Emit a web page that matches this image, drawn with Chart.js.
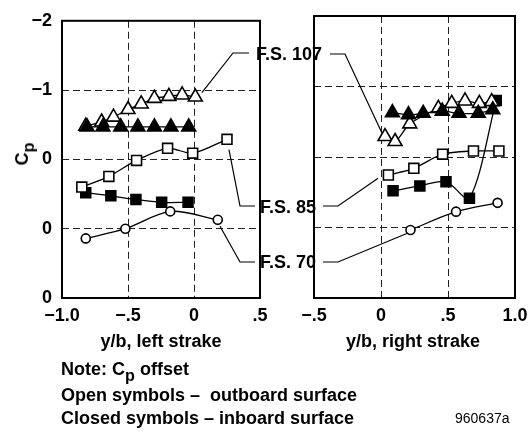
<!DOCTYPE html>
<html>
<head>
<meta charset="utf-8">
<script src="https://cdn.jsdelivr.net/npm/chart.js@4.4.1/dist/chart.umd.min.js"></script>
<style>
html, body { margin: 0; padding: 0; background: #fff; overflow: hidden; width: 528px; height: 432px; }
body { position: relative; font-family: "Liberation Sans", Arial, sans-serif; font-weight: bold; color: #000; }
canvas { position: absolute; top: 0; }
#left { left: 0; }
#right { left: 260px; }
#overlay { left: 0; pointer-events: none; }
.lbl { position: absolute; font-size: 18px; white-space: nowrap; line-height: 20px; }
.c { transform: translate(-50%, -50%); }
.l { transform: translate(0, -50%); }
sub { font-size: 90%; vertical-align: -0.35em; line-height: 0; }
</style>
</head>
<body>
<canvas id="left" width="280" height="330"></canvas>
<canvas id="right" width="280" height="330"></canvas>
<canvas id="overlay" width="528" height="432"></canvas>

<div class="lbl c" style="left:22px; top:154px; transform: translate(-50%, -50%) rotate(-90deg);">C<sub>p</sub></div>
<div class="lbl c" style="left:289px; top:54px;">F.S. 107</div>
<div class="lbl c" style="left:288px; top:207px;">F.S. 85</div>
<div class="lbl c" style="left:288px; top:262px;">F.S. 70</div>
<div class="lbl c" style="left:161px; top:341px;">y/b, left strake</div>
<div class="lbl c" style="left:413px; top:341px;">y/b, right strake</div>
<div class="lbl l" style="left:61px; top:369px;">Note: C<sub>p</sub> offset</div>
<div class="lbl l" style="left:61px; top:395px;">Open symbols &ndash;&nbsp; outboard surface</div>
<div class="lbl l" style="left:61px; top:418px;">Closed symbols &ndash; inboard surface</div>
<div class="lbl l" style="left:455px; top:418px; font-weight:normal; font-size:14px;">960637a</div>

<script>
// Axis ticks (offset Cp axis, negative up)
var cpTicks = [-2, -1, 0, 1, 2];
var cpLabels = ['\u22122', '\u22121', '0', '0', '0'];
var leftXTicks = [-1, -0.5, 0, 0.5];
var leftXLabels = ['\u22121.0', '\u2212.5', '0', '.5'];
var rightXTicks = [-0.5, 0, 0.5, 1];
var rightXLabels = ['\u2212.5', '0', '.5', '1.0'];

// Left strake
var leftOpenTriX  = [-0.82, -0.70, -0.61, -0.50, -0.40, -0.30, -0.19, -0.09, 0.01];
var leftOpenTriCp = [-0.48, -0.54, -0.61, -0.72, -0.80, -0.88, -0.91, -0.93, -0.90];
var leftFillTriX  = [-0.81, -0.69, -0.555, -0.425, -0.30, -0.175, -0.04];
var leftFillTriCp = [-0.47, -0.47, -0.47, -0.47, -0.47, -0.47, -0.47];
var leftOpenSqX   = [-0.85, -0.645, -0.435, -0.20, -0.01, 0.25];
var leftOpenSqCp  = [0.40, 0.245, 0.015, -0.16, -0.09, -0.29];
var leftFillSqX   = [-0.82, -0.63, -0.44, -0.245, -0.045];
var leftFillSqCp  = [0.48, 0.525, 0.58, 0.62, 0.62];
var leftCircX     = [-0.82, -0.52, -0.18, 0.18];
var leftCircCp    = [1.14, 1.0, 0.75, 0.87];

// Right strake
var rightOpenTriX  = [0.03, 0.105, 0.215, 0.428, 0.528, 0.627, 0.734, 0.826];
var rightOpenTriCp = [-0.29, -0.22, -0.47, -0.69, -0.76, -0.795, -0.76, -0.785];
var rightFillTriX  = [0.085, 0.205, 0.315, 0.457, 0.582, 0.726, 0.834];
var rightFillTriCp = [-0.63, -0.60, -0.62, -0.65, -0.62, -0.62, -0.67];
var rightOpenSqX   = [0.055, 0.245, 0.46, 0.69, 0.88];
var rightOpenSqCp  = [0.255, 0.16, -0.04, -0.085, -0.085];
var rightFillSqX   = [0.09, 0.29, 0.485, 0.66, 0.86];
var rightFillSqCp  = [0.48, 0.41, 0.35, 0.585, -0.80];
var rightCircX     = [0.22, 0.56, 0.87];
var rightCircCp    = [1.035, 0.775, 0.65];

var tickFont = {family: 'Liberation Sans', size: 18, weight: 'bold'};

// Build one line+marker dataset
function series(xs, ys, style, filled, radius) {
    return {
        data: xs.map(function (x, i) { return {x: x, y: ys[i]}; }),
        showLine: true,
        borderColor: '#000',
        borderWidth: 1.3,
        tension: 0.3,
        pointStyle: style,
        pointRadius: radius,
        pointBackgroundColor: filled ? '#000' : '#fff',
        pointBorderColor: '#000',
        pointBorderWidth: 1.6
    };
}

function labelFor(values, labels) {
    return function (v) {
        for (var i = 0; i < values.length; i++) {
            if (Math.abs(values[i] - v) < 1e-6) return labels[i];
        }
        return '';
    };
}

// Box around the plot area
var framePlugin = {
    id: 'frame',
    beforeDatasetsDraw: function (chart) {
        var a = chart.chartArea, c = chart.ctx;
        c.save();
        c.strokeStyle = '#000';
        c.lineWidth = 2;
        c.strokeRect(a.left, a.top, a.right - a.left, a.bottom - a.top);
        c.restore();
    }
};

function makeChart(id, xMin, xMax, xTicks, xLabels, showY, yWidth, padRight, datasets) {
    return new Chart(document.getElementById(id), {
        type: 'scatter',
        data: {datasets: datasets},
        plugins: [framePlugin],
        options: {
            responsive: false,
            animation: false,
            devicePixelRatio: 1,
            layout: {padding: {top: 16, right: padRight, left: 0, bottom: 0}},
            plugins: {legend: {display: false}, tooltip: {enabled: false}},
            scales: {
                x: {
                    type: 'linear', min: xMin, max: xMax,
                    afterFit: function (s) { s.height = 32; },
                    grid: {color: '#222', lineWidth: 1, drawTicks: false},
                    border: {display: false, dash: [7, 4]},
                    ticks: {
                        stepSize: 0.5, autoSkip: false, maxRotation: 0, padding: 7,
                        color: '#000', font: tickFont,
                        callback: labelFor(xTicks, xLabels)
                    }
                },
                y: {
                    type: 'linear', min: -2, max: 2, reverse: true,
                    afterFit: function (s) { s.width = yWidth; },
                    grid: {color: '#222', lineWidth: 1, drawTicks: false},
                    border: {display: false, dash: [7, 4]},
                    ticks: {
                        display: showY, stepSize: 1, autoSkip: false, padding: 10,
                        color: '#000', font: tickFont,
                        callback: labelFor(cpTicks, cpLabels)
                    }
                }
            }
        }
    });
}

var leftChart = makeChart('left', -1, 0.5, leftXTicks, leftXLabels, true, 62, 20, [
    series(leftFillTriX, leftFillTriCp, 'triangle', true, 8),
    series(leftOpenTriX, leftOpenTriCp, 'triangle', false, 8),
    series(leftOpenSqX, leftOpenSqCp, 'rect', false, 7),
    series(leftFillSqX, leftFillSqCp, 'rect', true, 7),
    series(leftCircX, leftCircCp, 'circle', false, 4.5)
]);

var rightChart = makeChart('right', -0.5, 1.0, rightXTicks, rightXLabels, false, 54, 25, [
    series(rightFillTriX, rightFillTriCp, 'triangle', true, 8),
    series(rightOpenTriX, rightOpenTriCp, 'triangle', false, 8),
    series(rightOpenSqX, rightOpenSqCp, 'rect', false, 7),
    series(rightFillSqX, rightFillSqCp, 'rect', true, 7),
    series(rightCircX, rightCircCp, 'circle', false, 4.5)
]);

// Leader lines from the F.S. labels to their curves
function toPage(chart, offsetX, x, y) {
    return [offsetX + chart.scales.x.getPixelForValue(x), chart.scales.y.getPixelForValue(y)];
}
var leaders = [
    [[249, 53], [233, 53], toPage(leftChart, 0, 0.06, -0.965)],
    [[330, 54], [345, 54], toPage(rightChart, 260, 0.007, -0.34)],
    [[255, 206], [240, 206], toPage(leftChart, 0, 0.265, -0.14)],
    [[323, 206], [338, 206], toPage(rightChart, 260, -0.022, 0.30)],
    [[255, 262], [240, 262], toPage(leftChart, 0, 0.197, 0.965)],
    [[323, 262], [338, 262], toPage(rightChart, 260, 0.2015, 1.078)]
];
var oc = document.getElementById('overlay').getContext('2d');
oc.strokeStyle = '#000';
oc.lineWidth = 1.2;
leaders.forEach(function (p) {
    oc.beginPath();
    oc.moveTo(p[0][0], p[0][1]);
    oc.lineTo(p[1][0], p[1][1]);
    oc.lineTo(p[2][0], p[2][1]);
    oc.stroke();
});
</script>
</body>
</html>
